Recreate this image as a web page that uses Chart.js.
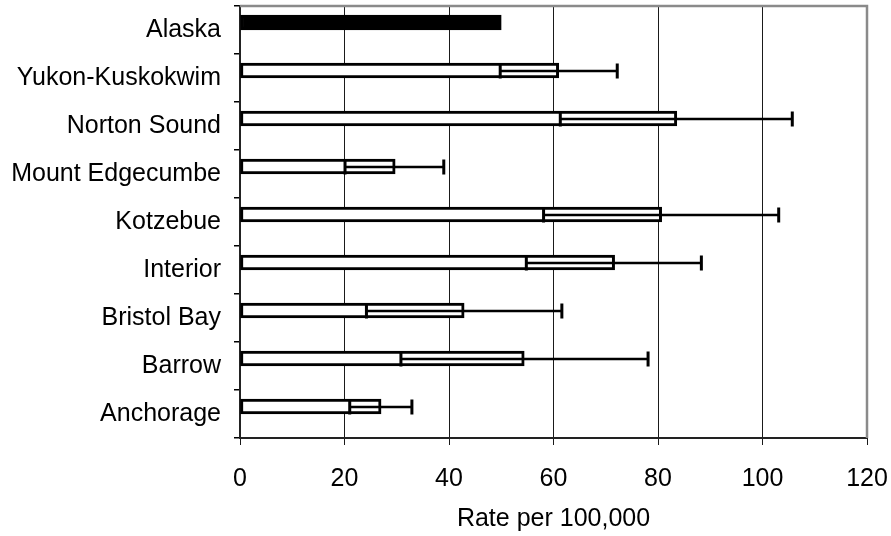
<!DOCTYPE html>
<html lang="en">
<head>
<meta charset="UTF-8">
<title>Rate per 100,000 by region</title>
<script src="https://cdn.jsdelivr.net/npm/chart.js@4/dist/chart.umd.min.js"></script>
<style>
  html, body { margin: 0; padding: 0; background: #fff; }
  #wrap { width: 891px; height: 536px; }
</style>
</head>
<body>
<div id="wrap"><canvas id="myChart" width="891" height="536"></canvas></div>
<script>
const regions = ['Alaska', 'Yukon-Kuskokwim', 'Norton Sound', 'Mount Edgecumbe', 'Kotzebue',
    'Interior', 'Bristol Bay', 'Barrow', 'Anchorage'];
const rates = [50, 61.0, 83.6, 29.7, 80.7, 71.7, 42.9, 54.4, 27.0];
const lowerCI = [null, 49.8, 61.3, 20.1, 58.1, 54.8, 24.2, 30.8, 21.0];
const upperCI = [null, 72.2, 105.7, 39.0, 103.1, 88.3, 61.6, 78.1, 32.9];
// empty second series, as in the original spreadsheet (keeps the bars above centre)
const blank = regions.map(() => null);
const xTicks = [0, 20, 40, 60, 80, 100, 120];

const FONT = "'Liberation Sans', Arial, sans-serif";

// error bars + gray frame on top/right
const errorBars = {
    id: 'errorBars',
    afterDatasetsDraw(chart) {
        const ctx = chart.ctx;
        const x = chart.scales.x;
        const meta = chart.getDatasetMeta(0);
        ctx.save();
        ctx.strokeStyle = '#000';
        meta.data.forEach((bar, i) => {
            if (lowerCI[i] == null) return;
            const y = Math.round(bar.y);
            const xl = x.getPixelForValue(lowerCI[i]);
            const xu = x.getPixelForValue(upperCI[i]);
            const h = bar.height / 2;
            ctx.lineWidth = 2.5;
            ctx.beginPath();
            ctx.moveTo(xl, y);
            ctx.lineTo(xu, y);
            ctx.stroke();
            ctx.lineWidth = 3;
            ctx.beginPath();
            ctx.moveTo(xl, y - h);
            ctx.lineTo(xl, y + h);
            ctx.moveTo(xu, y - 7.5);
            ctx.lineTo(xu, y + 7.5);
            ctx.stroke();
        });
        const a = chart.chartArea;
        ctx.strokeStyle = '#8a8a8a';
        ctx.lineWidth = 2.5;
        ctx.beginPath();
        ctx.moveTo(a.left, a.top);
        ctx.lineTo(a.right, a.top);
        ctx.lineTo(a.right, a.bottom);
        ctx.stroke();
        ctx.restore();
    }
};

const data = {
    labels: regions,
    datasets: [{
        data: rates,
        backgroundColor: regions.map((r, i) => i === 0 ? '#000' : '#fff'),
        borderColor: '#000',
        borderWidth: 3,
        borderSkipped: false,
        barThickness: 15
    }, {
        data: blank,
        backgroundColor: '#fff',
        borderWidth: 0,
        barThickness: 15
    }]
};

const config = {
    type: 'bar',
    data: data,
    options: {
        indexAxis: 'y',
        responsive: false,
        animation: false,
        layout: { padding: { top: 6, right: 24, left: 0, bottom: 0 } },
        plugins: {
            legend: { display: false },
            tooltip: { enabled: false }
        },
        scales: {
            x: {
                min: 0,
                max: 120,
                afterBuildTicks: (scale) => { scale.ticks = xTicks.map(v => ({ value: v })); },
                afterFit: (scale) => {
                    scale.height = 98;
                    scale.paddingLeft = 0;
                    scale.paddingRight = 0;
                },
                grid: {
                    color: '#1a1a1a',
                    lineWidth: 1,
                    tickLength: 7,
                    drawTicks: true
                },
                border: { color: '#222', width: 2 },
                ticks: {
                    color: '#000',
                    padding: 19,
                    font: { family: FONT, size: 25 }
                },
                title: {
                    display: true,
                    text: 'Rate per 100,000',
                    color: '#000',
                    padding: { top: 0, bottom: 2 },
                    font: { family: FONT, size: 25 }
                }
            },
            y: {
                afterFit: (scale) => {
                    scale.width = 240;
                    scale.paddingTop = 0;
                    scale.paddingBottom = 0;
                },
                grid: {
                    offset: true,
                    drawOnChartArea: false,
                    drawTicks: true,
                    tickLength: 6,
                    color: '#000',
                    lineWidth: 1.5
                },
                border: { color: '#222', width: 2 },
                ticks: {
                    color: '#000',
                    padding: 13,
                    font: { family: FONT, size: 25 }
                }
            }
        }
    },
    plugins: [errorBars]
};

const myChart = new Chart(document.getElementById('myChart'), config);
</script>
</body>
</html>
